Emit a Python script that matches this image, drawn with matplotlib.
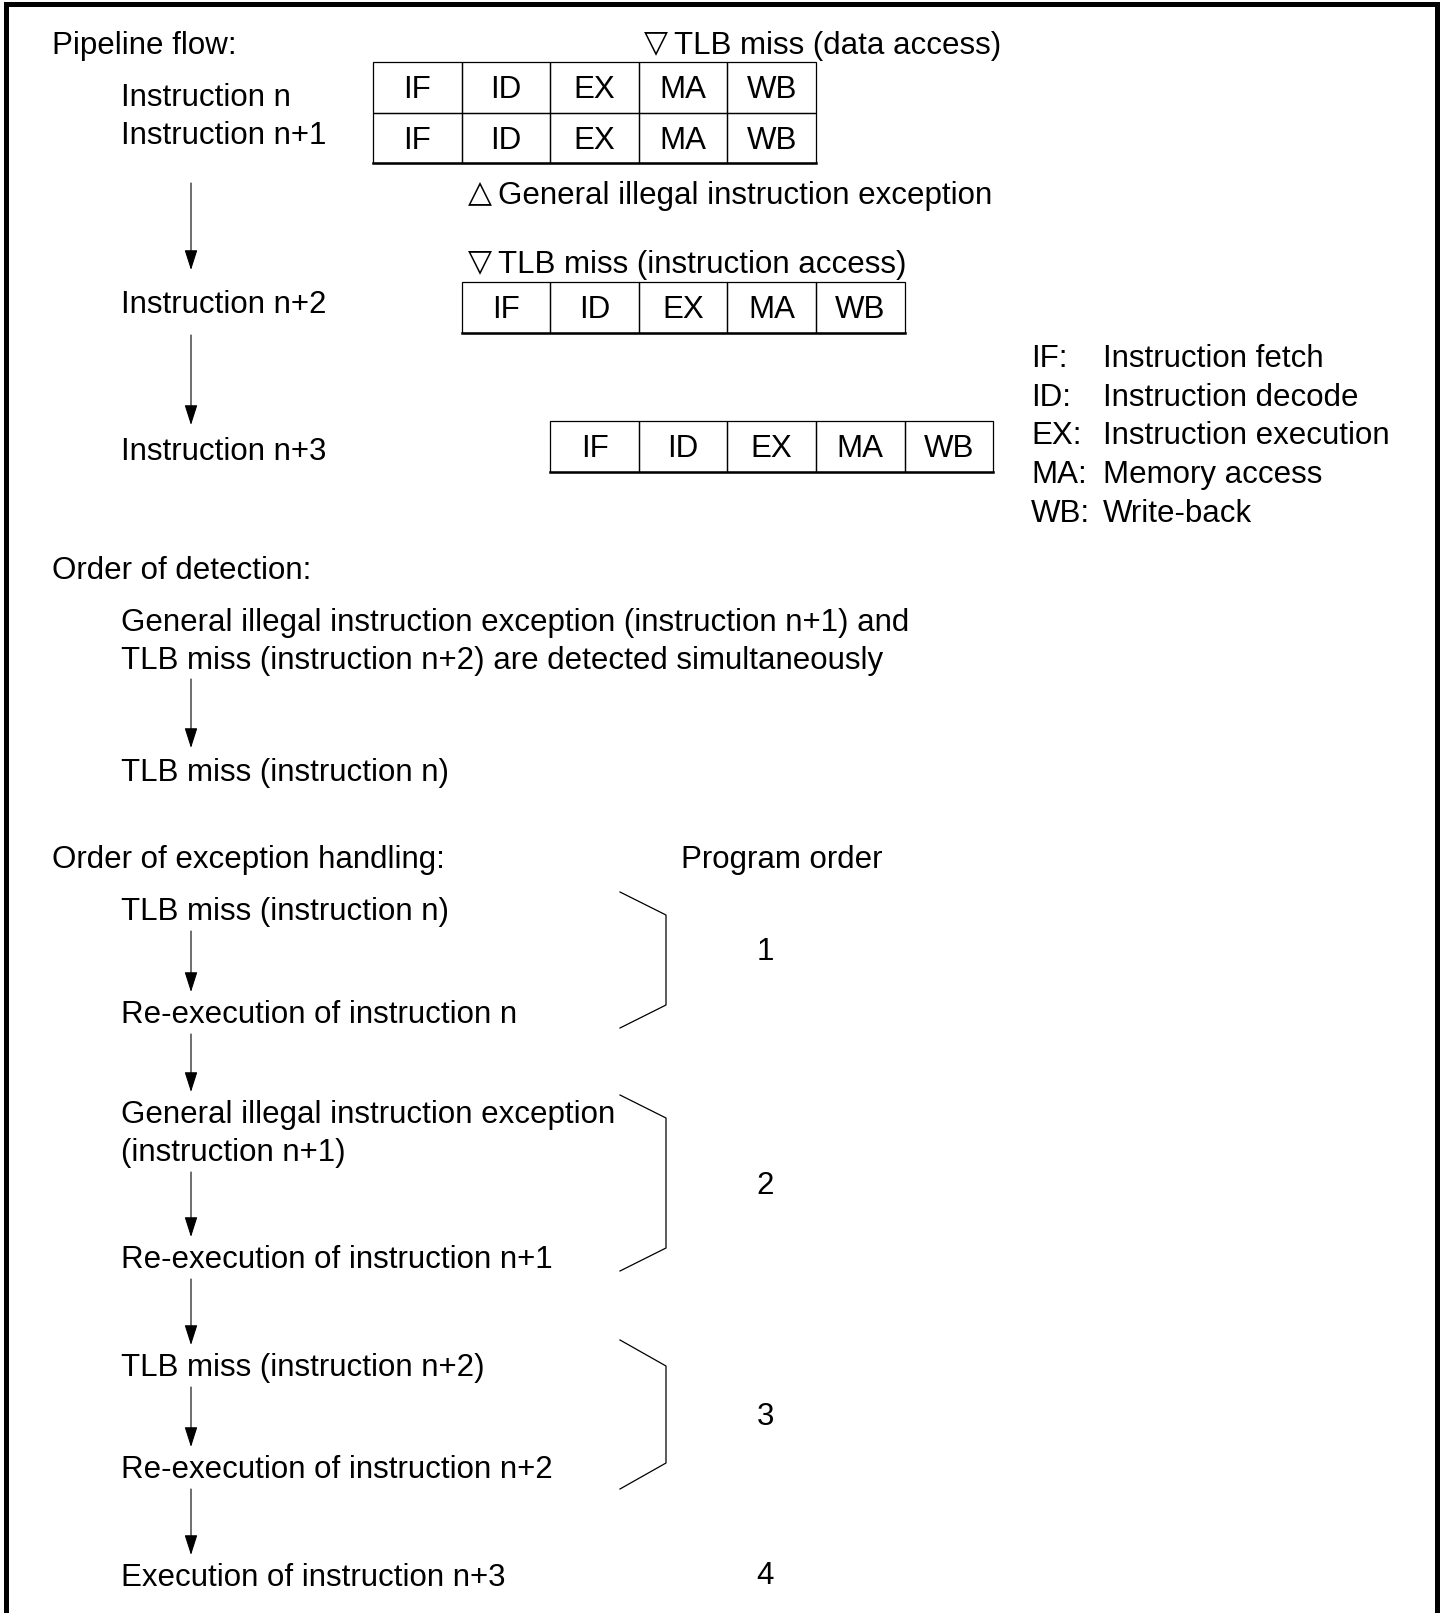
import matplotlib.pyplot as plt
from matplotlib.patches import Rectangle, FancyArrowPatch

plt.rcParams['font.family'] = ['Liberation Sans', 'DejaVu Sans']

# ---- content ----
stages = ["IF", "ID", "EX", "MA", "WB"]
pipe_labels = ["Instruction n", "Instruction n+1", "Instruction n+2", "Instruction n+3"]
pipe_offset = [0, 0, 1, 2]          # start column of each instruction's pipeline
legend_keys = ["IF:", "ID:", "EX:", "MA:", "WB:"]
legend_desc = ["Instruction fetch", "Instruction decode", "Instruction execution",
               "Memory access", "Write-back"]
marker_sym = ["\u25bd", "\u25b3", "\u25bd"]
marker_text = ["TLB miss (data access)",
               "General illegal instruction exception",
               "TLB miss (instruction access)"]
detection = ["General illegal instruction exception (instruction n+1) and\n"
             "TLB miss (instruction n+2) are detected simultaneously",
             "TLB miss (instruction n)"]
handling = ["TLB miss (instruction n)",
            "Re-execution of instruction n",
            "General illegal instruction exception\n(instruction n+1)",
            "Re-execution of instruction n+1",
            "TLB miss (instruction n+2)",
            "Re-execution of instruction n+2",
            "Execution of instruction n+3"]
program_order = ["1", "2", "3", "4"]

# ---- layout (pixels, y down) ----
W, H = 1443, 1613
EM = 31.3
FS = EM * 72 / 100
CAP = 0.358 * EM
X_HEAD, X_IND, X_ARROW = 52, 121, 191
TBL_X0, COL_W, ROW_H = 373, 88.6, 50.5
pipe_row_top = [62, 62 + ROW_H, 282, 421]
pipe_label_y = [95, 133, 302, 449]
marker_pos = [(644, 43), (468, 193), (468, 262)]
SYM_GAP, SYM_LIFT = 30, 3
pipe_arrows = [(183, 270), (335, 425)]
legend_y = [356, 395, 433, 472, 511]
det_y = [620, 770]
hand_y = [909, 1012, 1112, 1257, 1365, 1467, 1575]
LINE_GAP = 38
order_y = [949, 1183, 1414, 1573]
brackets = [(892, 1028, 23), (1095, 1271, 23), (1340, 1489, 26)]

fig = plt.figure(figsize=(W / 100, H / 100), dpi=100)
ax = fig.add_axes([0, 0, 1, 1])
ax.set_xlim(0, W)
ax.set_ylim(H, 0)
ax.axis('off')


def put(x, yc, s, ha='left'):
    ax.text(x, yc + CAP, s, fontsize=FS, ha=ha, va='baseline', color='black')


def put_lines(x, yc, s):
    for i, line in enumerate(s.split("\n")):
        put(x, yc + i * LINE_GAP, line)
    return yc + (len(s.split("\n")) - 1) * LINE_GAP


def arrow(y0, y1, x=X_ARROW):
    ax.add_patch(FancyArrowPatch((x, y0), (x, y1),
                                 arrowstyle="-|>,head_length=12.5,head_width=4",
                                 mutation_scale=1, shrinkA=0, shrinkB=0,
                                 lw=0.8, color='black'))


# outer frame (no bottom edge)
ax.plot([6, 6, 1437, 1437], [H, 4, 4, H], color='black', lw=3.6,
        solid_joinstyle='miter', solid_capstyle='butt')

# pipeline flow
put(X_HEAD, 43, "Pipeline flow:")
for lab, off, top, ly in zip(pipe_labels, pipe_offset, pipe_row_top, pipe_label_y):
    put(X_IND, ly, lab)
    for j, st in enumerate(stages):
        x0 = TBL_X0 + (off + j) * COL_W
        ax.add_patch(Rectangle((x0, top), COL_W, ROW_H, fill=False,
                               ec='black', lw=0.9))
        put(x0 + COL_W / 2, top + ROW_H / 2, st, ha='center')
# heavier bottom edge on each table
for top, off in [(pipe_row_top[1], 0), (pipe_row_top[2], 1), (pipe_row_top[3], 2)]:
    x0 = TBL_X0 + off * COL_W
    ax.plot([x0, x0 + 5 * COL_W], [top + ROW_H, top + ROW_H], color='black', lw=1.8)

for sym, s, (mx, my) in zip(marker_sym, marker_text, marker_pos):
    put(mx, my - SYM_LIFT, sym)
    put(mx + SYM_GAP, my, s)
for y0, y1 in pipe_arrows:
    arrow(y0, y1)

for k, d, y in zip(legend_keys, legend_desc, legend_y):
    put(1031, y, k)
    put(1103, y, d)

# order of detection
put(X_HEAD, 568, "Order of detection:")
last = put_lines(X_IND, det_y[0], detection[0])
arrow(last + 21, det_y[1] - 22)
put(X_IND, det_y[1], detection[1])

# order of exception handling
put(X_HEAD, 857, "Order of exception handling:")
put(681, 857, "Program order")
prev = None
for s, y in zip(handling, hand_y):
    if prev is not None:
        arrow(prev + 22, y - 20)
    prev = put_lines(X_IND, y, s)

for top, bot, d in brackets:
    ax.plot([620, 666, 666, 620], [top, top + d, bot - d, bot],
            color='black', lw=0.9)
for s, y in zip(program_order, order_y):
    put(765, y, s, ha='center')

fig.savefig("out.png", dpi=100, facecolor='white')
